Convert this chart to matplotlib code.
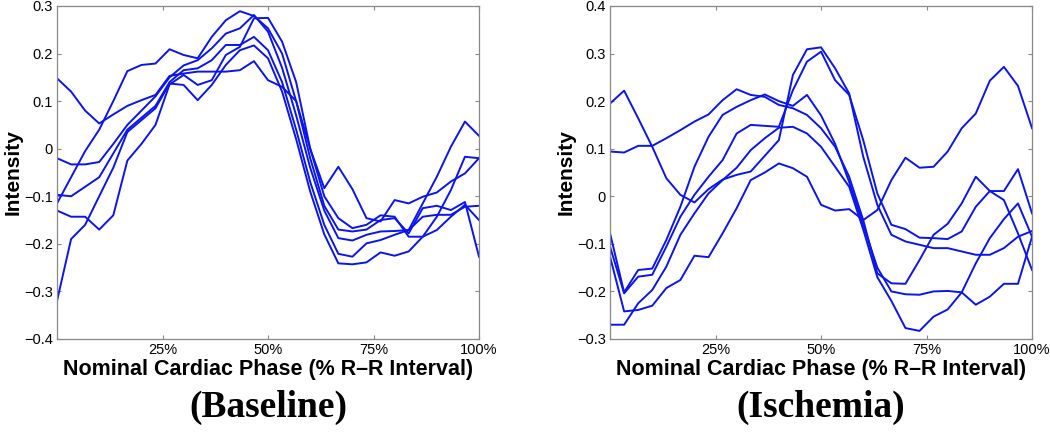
import numpy as np
import matplotlib
matplotlib.use("Agg")
import matplotlib.pyplot as plt

# 31 phase samples, 0..100 % of the R-R interval
phase = np.linspace(0, 100, 31)

# Baseline curves (intensity)
base_1 = [0.148, 0.12, 0.08, 0.053, 0.072, 0.09, 0.102, 0.113, 0.153, 0.158, 0.162,
          0.162, 0.162, 0.165, 0.184, 0.144, 0.13, 0.10, 0.0, -0.10, -0.146,
          -0.167, -0.16, -0.14, -0.143, -0.185, -0.185, -0.171, -0.143, -0.118, -0.15]
base_2 = [-0.115, -0.06, -0.005, 0.04, 0.10, 0.163, 0.176, 0.179, 0.209, 0.197, 0.19,
          0.235, 0.27, 0.289, 0.279, 0.253, 0.20, 0.10, -0.02, -0.12, -0.17,
          -0.174, -0.17, -0.15, -0.146, -0.178, -0.125, -0.12, -0.129, -0.112, -0.227]
base_3 = [-0.02, -0.033, -0.033, -0.028, 0.01, 0.05, 0.08, 0.11, 0.15, 0.175, 0.186,
          0.211, 0.242, 0.253, 0.281, 0.246, 0.17, 0.07, -0.04, -0.13, -0.188,
          -0.193, -0.181, -0.174, -0.173, -0.171, -0.143, -0.139, -0.139, -0.122, -0.12]
base_4 = [-0.097, -0.10, -0.08, -0.06, -0.01, 0.04, 0.065, 0.09, 0.14, 0.165, 0.169,
          0.186, 0.218, 0.218, 0.235, 0.207, 0.14, 0.04, -0.07, -0.16, -0.221,
          -0.227, -0.199, -0.192, -0.181, -0.171, -0.115, -0.059, 0.004, 0.057, 0.027]
base_5 = [-0.13, -0.143, -0.143, -0.17, -0.14, -0.025, 0.01, 0.05, 0.135, 0.155, 0.134,
          0.144, 0.197, 0.214, 0.274, 0.275, 0.225, 0.14, 0.0, -0.083, -0.038,
          -0.085, -0.146, -0.153, -0.108, -0.115, -0.101, -0.092, -0.069, -0.052, -0.02]
base_6 = [-0.32, -0.19, -0.16, -0.10, -0.04, 0.035, 0.06, 0.085, 0.137, 0.134, 0.102,
          0.134, 0.176, 0.207, 0.217, 0.19, 0.12, 0.02, -0.09, -0.18, -0.241,
          -0.243, -0.239, -0.218, -0.225, -0.216, -0.185, -0.143, -0.087, -0.017, -0.02]

# Ischemia curves (intensity)
isch_1 = [0.195, 0.222, 0.164, 0.104, 0.038, 0.003, -0.013, 0.015, 0.035, 0.045, 0.052,
          0.085, 0.118, 0.255, 0.309, 0.313, 0.269, 0.216, 0.083, -0.018, -0.081,
          -0.095, -0.102, -0.109, -0.109, -0.116, -0.123, -0.123, -0.109, -0.085, -0.073]
isch_2 = [0.094, 0.092, 0.106, 0.106, 0.122, 0.139, 0.157, 0.172, 0.202, 0.225, 0.213,
          0.209, 0.192, 0.185, 0.171, 0.143, 0.104, 0.041, -0.05, -0.162, -0.183,
          -0.184, -0.134, -0.081, -0.058, -0.015, 0.041, 0.011, -0.008, -0.078, -0.155]
isch_3 = [-0.078, -0.202, -0.155, -0.152, -0.092, -0.022, 0.062, 0.125, 0.171, 0.188, 0.202,
          0.214, 0.20, 0.19, 0.213, 0.17, 0.11, 0.03, -0.06, -0.15, -0.20,
          -0.206, -0.207, -0.20, -0.199, -0.202, -0.228, -0.211, -0.184, -0.184, -0.085]
isch_4 = [-0.106, -0.204, -0.169, -0.165, -0.106, -0.043, 0.003, 0.041, 0.076, 0.132, 0.15,
          0.148, 0.146, 0.223, 0.283, 0.304, 0.244, 0.213, 0.118, 0.006, -0.06,
          -0.069, -0.087, -0.088, -0.09, -0.074, -0.022, 0.011, 0.011, 0.057, -0.036]
isch_5 = [-0.27, -0.27, -0.225, -0.197, -0.148, -0.081, -0.036, 0.006, 0.034, 0.06, 0.097,
          0.122, 0.144, 0.146, 0.132, 0.104, 0.062, 0.02, -0.07, -0.17, -0.22,
          -0.277, -0.283, -0.253, -0.238, -0.202, -0.141, -0.088, -0.048, -0.015, -0.085]
isch_6 = [-0.127, -0.242, -0.239, -0.23, -0.193, -0.176, -0.125, -0.128, -0.078, -0.025, 0.034,
          0.05, 0.069, 0.059, 0.041, -0.018, -0.03, -0.027, -0.05, -0.029, 0.034,
          0.081, 0.06, 0.062, 0.094, 0.143, 0.174, 0.243, 0.272, 0.232, 0.143]

baseline = [base_1, base_2, base_3, base_4, base_5, base_6]
ischemia = [isch_1, isch_2, isch_3, isch_4, isch_5, isch_6]

x_ticks = [25, 50, 75, 100]
x_tick_labels = ["25%", "50%", "75%", "100%"]

plt.rcParams["font.family"] = ["Liberation Sans", "DejaVu Sans"]

fig = plt.figure(figsize=(10.5, 4.36), dpi=100)
ax_b = fig.add_axes([0.0543, 0.2225, 0.4019, 0.7638])
ax_i = fig.add_axes([0.5810, 0.2225, 0.4019, 0.7638])


def style_axis(ax, curves, ylim, yticks, title):
    for c in curves:
        ax.plot(phase, c, color="#0a14f0", linewidth=1.4)
    ax.set_xlim(0, 100)
    ax.set_ylim(*ylim)
    ax.set_xticks(x_ticks)
    ax.set_xticklabels(x_tick_labels)
    ax.set_yticks(yticks)
    ax.set_yticklabels([f"{v:.1f}".replace("-", "\u2212") if abs(v) > 1e-9 else "0"
                        for v in yticks])
    ax.tick_params(direction="in", top=True, right=True, length=3,
                   color="#888888", labelsize=10.5, pad=3)
    for s in ax.spines.values():
        s.set_color("#888888")
        s.set_linewidth(0.9)
    ax.set_xlabel("Nominal Cardiac Phase (% R\u2013R Interval)",
                  fontsize=15.5, fontweight="bold", labelpad=1)
    ax.set_ylabel("Intensity", fontsize=15, fontweight="bold", labelpad=1)
    ax.text(0.5, -0.205, title, transform=ax.transAxes, ha="center", va="center",
            fontsize=27, fontweight="bold", family="Liberation Serif")


style_axis(ax_b, baseline, (-0.4, 0.3), np.round(np.arange(-0.4, 0.31, 0.1), 1),
           "(Baseline)")
style_axis(ax_i, ischemia, (-0.3, 0.4), np.round(np.arange(-0.3, 0.41, 0.1), 1),
           "(Ischemia)")

fig.savefig("out.png", dpi=100, facecolor="white")
